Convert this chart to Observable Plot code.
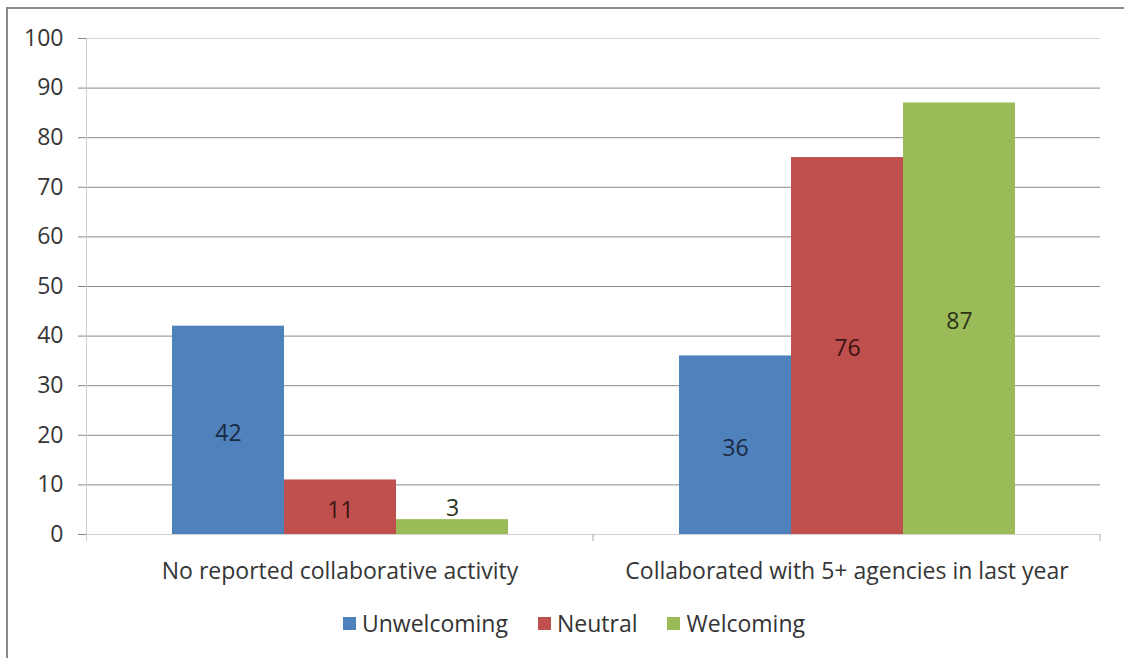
<!DOCTYPE html>
<html>
<head>
<meta charset="utf-8">
<script src="https://cdn.jsdelivr.net/npm/d3@7"></script>
<script src="https://cdn.jsdelivr.net/npm/@observablehq/plot@0.6"></script>
<style>
  html, body { margin: 0; padding: 0; background: #fff; }
  body { width: 1124px; height: 658px; position: relative; overflow: hidden; font-family: "Open Sans", sans-serif; }
  #frame { position: absolute; left: 6px; top: 7px; width: 1130px; height: 660px; border-top: 2px solid #8a8a8a; border-left: 2px solid #8a8a8a; box-sizing: border-box; }
  #chart { position: absolute; left: 0; top: 0; }
  #legend { position: absolute; left: 12px; width: 1124px; top: 607px; display: flex; justify-content: center; align-items: center; font-size: 23px; color: #333; }
  .item { display: flex; align-items: center; margin: 0 15px; }
  .sw { width: 13px; height: 13px; margin-right: 6px; }
</style>
</head>
<body>
<div id="frame"></div>
<div id="chart"></div>
<div id="legend"></div>
<script>
const groups = ["No reported collaborative activity", "Collaborated with 5+ agencies in last year"];
const series = ["Unwelcoming", "Neutral", "Welcoming"];
const unwelcoming = [42, 36];
const neutral = [11, 76];
const welcoming = [3, 87];
const yTicks = [0, 10, 20, 30, 40, 50, 60, 70, 80, 90, 100];

const colors = ["#4F81BD", "#C0504D", "#9BBB59"];
const labelColors = ["#1b2a44", "#3a1513", "#2a3318"];
const labelMin = 5;

const seriesValues = [unwelcoming, neutral, welcoming];
const data = groups.flatMap((g, i) => series.map((s, j) => ({group: g, series: s, value: seriesValues[j][i]})));
const labelFill = d => labelColors[series.indexOf(d.series)];

const chart = Plot.plot({
  width: 1124,
  height: 590,
  marginLeft: 86,
  marginRight: 24,
  marginTop: 38,
  marginBottom: 56,
  style: {fontFamily: "Open Sans, sans-serif", fontSize: "22px", color: "#363636", background: "transparent"},
  fx: {domain: groups, padding: 0, label: null},
  x: {domain: series, paddingInner: 0, paddingOuter: 0.763, axis: null},
  y: {domain: [0, 100], label: null},
  color: {domain: series, range: colors},
  marks: [
    Plot.gridY(yTicks.filter(t => t > 0 && t < 100), {stroke: "#878787", strokeOpacity: 1}),
    Plot.gridY([100], {stroke: "#d6d6d6", strokeOpacity: 1}),
    Plot.axisY(yTicks, {tickSize: 8, tickPadding: 15, stroke: "#878787", label: null, fontSize: 23}),
    Plot.axisFx({anchor: "bottom", tickSize: 0, tickPadding: 28, label: null, fontSize: 23}),
    Plot.barY(data, {fx: "group", x: "series", y: "value", fill: "series", inset: 0}),
    Plot.ruleY([0], {stroke: "#d0d0d0"}),
    Plot.text(data.filter(d => d.value >= labelMin), {fx: "group", x: "series", y: d => d.value / 2, dy: 3, text: "value", fill: labelFill, fontSize: 23}),
    Plot.text(data.filter(d => d.value < labelMin), {fx: "group", x: "series", y: "value", dy: -11, text: "value", fill: labelFill, fontSize: 23})
  ]
});

// category-axis line and separator ticks, drawn from Plot's own scales
const fx = chart.scale("fx");
const y = chart.scale("y");
const svg = d3.select(chart);
const y0 = y.apply(0), yTop = y.apply(100);
const bounds = [];
groups.forEach(g => { const s = fx.apply(g); bounds.push(s, s + fx.bandwidth); });
const uniq = Array.from(new Set(bounds.map(b => Math.round(b * 10) / 10)));
svg.append("line")
  .attr("x1", uniq[0] + 0.5).attr("x2", uniq[0] + 0.5)
  .attr("y1", yTop).attr("y2", y0 + 7)
  .attr("stroke", "#d0d0d0");
svg.selectAll("line.sep").data(uniq.slice(1)).join("line")
  .attr("class", "sep")
  .attr("x1", d => d).attr("x2", d => d)
  .attr("y1", y0).attr("y2", y0 + 7)
  .attr("stroke", "#a8a8a8");

document.getElementById("chart").appendChild(chart);

const legend = document.getElementById("legend");
series.forEach((s, i) => {
  const item = document.createElement("div");
  item.className = "item";
  const sw = document.createElement("span");
  sw.className = "sw";
  sw.style.background = colors[i];
  const t = document.createElement("span");
  t.textContent = s;
  item.appendChild(sw);
  item.appendChild(t);
  legend.appendChild(item);
});
</script>
</body>
</html>
